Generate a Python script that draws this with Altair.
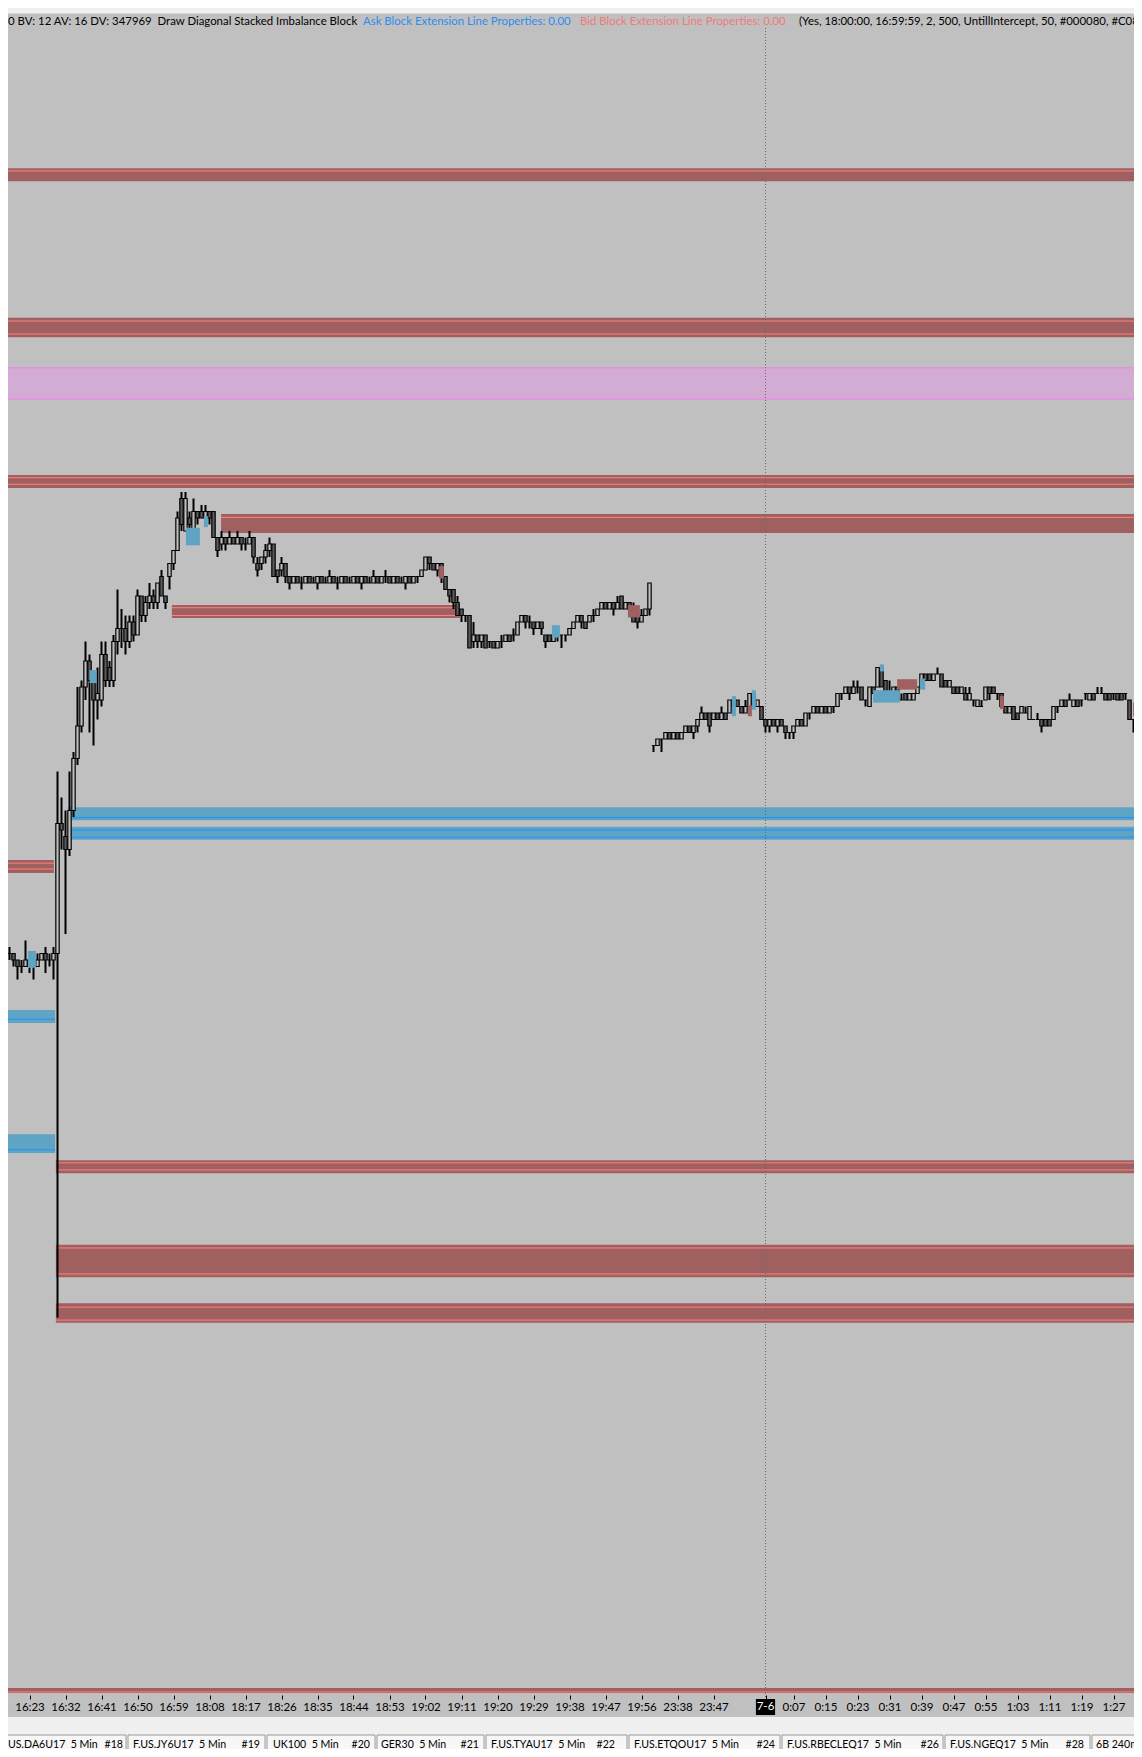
import altair as alt
import pandas as pd

# ---------------- 1-minute bars, price in ticks ----------------
left_first = -5
left_open = [113,113,112,111,111,112,111,111,112,113,112,112,
             113,133,131,129,135,143,148,154,158,155,
             152,152,159,157,155,161,163,163,161,164,
             162,168,165,167,168,167,171,168,171,173,
             175,183,178,180,178,181,181,180,181,181,
             177,176,177,176,177,176,177,176,176,177,
             173,173,174,175,176,172,172,173,171,170,
             171,170,170,171,170,170,171,170,170,171,
             170,170,171,170,170,171,170,171,170,170,
             171,170,171,171,170,171,170,170,171,170,
             171,171,172,174,173,172,173,171,169,169,
             167,166,165,165,161,162,161,162,161,161,
             160,161,161,162,162,162,164,165,164,164,
             163,164,162,162,161,162,162,162,162,163,
             164,165,164,164,165,165,166,167,166,167,
             166,168,166,167,166,165,164,165,166]
left_close = [113,112,111,111,112,111,111,112,113,112,112,113,
              133,132,129,135,143,148,154,158,155,152,
              153,159,155,155,161,163,163,161,164,162,
              168,165,167,168,167,170,168,167,173,175,
              180,179,183,179,181,180,180,181,180,177,
              175,177,176,177,176,177,176,176,177,174,
              172,174,175,176,171,171,173,171,170,171,
              170,170,171,170,170,171,170,170,171,170,
              170,171,170,170,171,170,171,170,170,171,
              170,171,171,170,171,170,170,171,170,171,
              171,172,174,173,172,173,171,169,168,167,
              165,165,165,160,162,161,162,160,161,160,
              161,161,162,161,162,164,165,164,164,163,
              164,163,161,161,162,162,162,162,163,164,
              165,164,163,165,165,166,167,166,167,166,
              167,166,167,166,164,164,165,166,170]
left_high = [114,113,112,112,115,112,112,113,113,114,113,114,
             141,137,135,141,144,154,155,161,159,156,
             157,161,161,158,162,169,166,165,165,165,
             169,168,168,170,169,170,172,168,173,175,
             181,184,184,181,183,181,182,182,181,181,
             177,178,177,178,177,178,177,177,178,177,
             174,174,176,177,176,172,174,173,171,171,
             171,171,171,171,171,171,171,171,172,171,
             171,171,171,171,171,171,171,171,171,172,
             171,171,172,171,171,171,171,171,171,171,
             171,172,174,174,173,173,173,171,169,169,
             168,166,165,165,164,162,162,162,161,161,
             161,162,162,162,163,164,165,165,165,164,
             164,164,162,162,163,163,162,162,163,164,
             165,165,164,165,166,166,167,167,167,167,
             168,168,167,167,167,166,166,166,170]
left_low = [112,111,109,110,111,110,109,111,112,110,111,109,
            57,129,116,128,134,142,147,152,147,145,
            149,151,154,154,154,159,160,159,160,161,
            162,164,164,166,166,166,168,166,169,172,
            175,178,178,178,177,179,180,179,179,177,
            174,175,175,176,176,176,175,175,176,173,
            171,172,173,174,171,170,171,170,169,170,
            170,169,170,170,170,169,170,170,170,170,
            169,170,170,170,170,170,169,170,170,170,
            170,170,170,170,170,170,170,169,170,170,
            170,171,172,172,172,171,170,169,167,166,
            165,164,164,160,160,160,160,160,160,160,
            160,160,161,161,161,162,164,163,163,162,
            163,162,160,161,161,161,160,161,162,163,
            164,163,163,164,164,165,166,166,166,165,
            166,166,166,165,164,163,164,165,165]

right_first = 156
right_open = [145,145,146,146,147,146,147,146,147,148,
              147,148,149,150,150,149,150,149,150,150,
              152,152,151,150,151,153,151,151,149,148,
              149,148,149,148,147,147,148,149,148,150,
              150,151,150,151,150,151,151,153,153,154,
              153,154,154,152,151,154,154,157,155,153,
              153,154,152,153,152,152,153,154,156,156,
              155,156,156,155,154,154,154,153,153,152,
              152,151,151,152,154,154,153,153,151,150,
              151,150,150,150,149,149,149,149,149,149,
              149,151,151,152,152,151,152,152,153,152,
              153,153,153,153,153,153,153,153,153,152,
              149,148]
right_close = [145,146,146,147,146,147,146,147,148,147,
               148,149,150,149,148,150,149,150,149,152,
               151,151,150,151,153,151,152,149,148,149,
               148,149,148,147,147,148,149,148,150,150,
               151,150,151,150,151,151,153,153,154,153,
               154,154,152,152,154,153,157,154,153,153,
               154,152,152,152,153,153,154,156,155,155,
               156,156,154,154,155,153,153,154,152,153,
               152,152,151,154,153,153,153,151,150,151,
               149,149,151,150,151,149,149,148,148,148,
               151,151,152,151,152,152,151,152,153,153,
               152,153,153,152,152,153,152,152,153,149,
               149,149]
right_high = [145,146,146,147,147,147,147,147,148,148,
              148,149,151,150,150,150,150,151,150,152,
              152,152,151,152,153,153,152,151,149,149,
              149,149,149,148,147,148,149,149,150,150,
              151,151,151,151,151,151,153,153,154,154,
              155,155,154,152,154,154,157,157,155,155,
              154,154,153,153,153,153,154,156,156,156,
              156,157,156,155,155,154,154,154,154,154,
              152,152,152,154,154,154,153,153,151,151,
              151,150,151,151,151,149,150,149,149,149,
              151,151,152,152,153,152,152,152,153,153,
              153,154,154,153,153,153,153,153,153,152,
              149,149]
right_low = [144,145,144,146,146,146,146,146,147,147,
             146,147,149,149,147,149,149,149,149,150,
             150,151,150,150,151,151,151,149,147,147,
             148,147,148,146,146,146,148,148,148,149,
             150,150,150,150,150,150,151,152,153,152,
             153,153,152,151,151,153,154,154,153,153,
             153,152,152,152,152,152,153,154,155,155,
             155,156,154,154,154,153,153,153,152,152,
             151,151,151,152,152,153,152,151,150,150,
             149,149,150,150,149,149,149,147,148,148,
             149,150,151,151,152,151,151,151,152,152,
             152,153,153,152,152,152,152,152,152,149,
             147,148]

# ---------------- time axis ----------------
tick_idx = [0, 9, 18, 27, 36, 45, 54, 63, 72, 81, 90, 99, 108, 117, 126, 135, 144, 153,
            162, 171, 184, 191, 199, 207, 215, 223, 231, 239, 247, 255, 263, 271]
tick_lbl = ["16:23", "16:32", "16:41", "16:50", "16:59", "18:08", "18:17", "18:26", "18:35",
            "18:44", "18:53", "19:02", "19:11", "19:20", "19:29", "19:38", "19:47", "19:56",
            "23:38", "23:47", "7-6", "0:07", "0:15", "0:23", "0:31", "0:39", "0:47", "0:55",
            "1:03", "1:11", "1:19", "1:27"]
session_idx = 184
session_lbl = "7-6"

# ---------------- extension blocks (price bands) ----------------
band_kind = ["bid", "bid", "zone", "bid", "bid", "bid", "ask", "ask", "bid", "ask", "ask",
             "bid", "bid", "bid", "bid"]
band_from = [-6, -6, -6, -6, 47.9, 35.6, 9.6, 9.6, -6, -6, -6, 6.6, 6.6, 6.6, -6]
band_to = [279, 279, 279, 279, 279, 107.6, 279, 279, 6.1, 6.4, 6.4, 279, 279, 279, 279]
band_top = [233.8, 210.8, 203.2, 186.6, 180.6, 166.6, 135.5, 132.5, 127.4, 104.3, 85.2,
            81.2, 68.2, 59.2, 0.0]
band_bot = [231.8, 207.8, 198.2, 184.6, 177.7, 164.6, 133.5, 130.5, 125.4, 102.3, 82.3,
            79.2, 63.2, 56.2, -0.77]
line_band = [0, 1, 1, 2, 2, 3, 3, 4, 5, 5, 6, 7, 7, 8, 8, 9, 10, 11, 11, 12, 12, 13, 13, 14]
line_price = [233.4, 210.3, 208.3, 203.1, 198.3, 186.2, 185.2, 180.1, 166.2, 165.0, 133.9,
              132.0, 130.9, 126.9, 126.0, 102.9, 82.8, 80.8, 79.7, 67.7, 63.7, 58.6, 56.6,
              -0.6]

# small stacked-imbalance blocks
blk_kind = ["ask"] * 10 + ["bid"] * 6
blk_from = [-0.4, 15.0, 39.1, 43.6, 130.6, 175.6, 180.6, 210.9, 212.6, 222.6,
            102.4, 149.6, 179.6, 216.9, 242.6, 275.9]
blk_to = [1.6, 16.8, 42.6, 44.6, 132.6, 176.6, 181.6, 217.6, 213.6, 223.9,
          103.6, 152.6, 180.6, 221.9, 243.6, 279]
blk_top = [113.4, 156.6, 178.5, 180.3, 163.5, 152.6, 153.5, 153.5, 157.5, 155.3,
           172.6, 166.6, 151.2, 155.2, 152.6, 151.6]
blk_bot = [110.8, 154.6, 175.8, 178.6, 161.6, 149.5, 150.5, 151.6, 156.4, 153.6,
           170.7, 164.7, 149.5, 153.6, 150.6, 149.5]

# ---------------- texts ----------------
header_txt = ["0 BV: 12 AV: 16 DV: 347969  Draw Diagonal Stacked Imbalance Block",
              "Ask Block Extension Line Properties: 0.00",
              "Bid Block Extension Line Properties: 0.00",
              "(Yes, 18:00:00, 16:59:59, 2, 500, UntillIntercept, 50, #000080, #C08000, 2)"]
header_kind = ["plain", "ask", "bid", "plain"]
header_px = [8, 363, 580, 799]

tab_name = ["US.DA6U17  5 Min", "F.US.JY6U17  5 Min", "UK100  5 Min", "GER30  5 Min",
            "F.US.TYAU17  5 Min", "F.US.ETQOU17  5 Min", "F.US.RBECLEQ17  5 Min",
            "F.US.NGEQ17  5 Min", "6B 240m"]
tab_num = ["#18", "#19", "#20", "#21", "#22", "#24", "#26", "#28", ""]
tab_px0 = [-2, 128, 267, 377, 486, 629, 782, 945, 1092]
tab_px1 = [126, 265, 375, 484, 627, 780, 943, 1090, 1160]
tab_txt0 = [8, 133, 273, 381, 491, 634, 787, 950, 1096]
tab_txt1 = [123, 260, 370, 479, 615, 775, 939, 1084, 1150]

# ---------------- geometry / styles ----------------
W, H = 1126, 1681
XMIN = -5.375
XMAX = XMIN + W / 4.0
YMIN, YMAX = -1.077, 257.54
FONT = "Lato"
BG = "#c0c0c0"
FILL = {"bid": "#a06060", "ask": "#60a4c4", "zone": "#d2acd2"}
LINE = {"bid": "#ff8080", "ask": "#1e90ff", "zone": "#ee82ee"}
BODY = {"up": BG, "down": "#5c5c5c", "flat": BG}
TXT = {"plain": "#000000", "ask": "#2b8cf0", "bid": "#f07a7a"}


def px2i(px):
    return XMIN + (px - 8) / 4.0


def session(first, o, h, l, c):
    n = len(c)
    return pd.DataFrame({"i": [first + k for k in range(n)], "o": o, "h": h, "l": l, "c": c})


bars = pd.concat([session(left_first, left_open, left_high, left_low, left_close),
                  session(right_first, right_open, right_high, right_low, right_close)],
                 ignore_index=True)
bars["x0"] = bars["i"] - 0.42
bars["x1"] = bars["i"] + 0.42
bars["top"] = bars[["o", "c"]].max(axis=1)
bars["bot"] = bars[["o", "c"]].min(axis=1)
bars["dir"] = ["up" if c > o else ("down" if c < o else "flat") for o, c in zip(bars.o, bars.c)]
bars["fillc"] = bars["dir"].map(BODY)

bands = pd.DataFrame({"kind": band_kind, "x0": band_from, "x1": band_to,
                      "top": band_top, "bot": band_bot})
bands["col"] = bands["kind"].map(FILL)
lines = pd.DataFrame({"p": line_price,
                      "x0": [band_from[b] for b in line_band],
                      "x1": [band_to[b] for b in line_band],
                      "kind": [band_kind[b] for b in line_band]})
lines["col"] = lines["kind"].map(LINE)
blocks = pd.DataFrame({"kind": blk_kind, "x0": blk_from, "x1": blk_to,
                       "top": blk_top, "bot": blk_bot})
blocks["col"] = blocks["kind"].map(FILL)

xs = alt.Scale(domain=[XMIN, XMAX], nice=False, zero=False)
ys = alt.Scale(domain=[YMIN, YMAX], nice=False, zero=False)
lbl_expr = ("datum.value == %d ? '' : %s[indexof(%s, datum.value)]"
            % (session_idx, str(tick_lbl), str(tick_idx)))
xaxis = alt.Axis(values=tick_idx, labelExpr=lbl_expr, title=None, grid=False, domain=False,
                 ticks=True, tickColor="#000000", tickSize=4, tickWidth=1,
                 labelColor="#000000", labelFont=FONT, labelFontSize=11.5, labelPadding=2,
                 labelFlush=False, labelOverlap=False, labelBound=False)


def X(f):
    return alt.X(f, type="quantitative", scale=xs, axis=xaxis)


def X2(f):
    return alt.X2(f)


def Y(f):
    return alt.Y(f, type="quantitative", scale=ys, axis=None)


one = pd.DataFrame({"a": [0]})

# light strips (header top and tab bar)
top_strip = alt.Chart(one).mark_rect(color="#f0f0f0").encode(
    x=alt.value(0), x2=alt.value(W), y=alt.value(-6), y2=alt.value(-0.5))
bottom_strip = alt.Chart(one).mark_rect(color="#f0f0f0").encode(
    x=alt.value(0), x2=alt.value(W), y=alt.value(H + 22), y2=alt.value(H + 60))

band_layer = alt.Chart(bands).mark_rect(clip=True).encode(
    x=X("x0"), x2=X2("x1"), y=Y("top"), y2=alt.Y2("bot"),
    color=alt.Color("col:N", scale=None))
line_layer = alt.Chart(lines).mark_rule(clip=True, strokeWidth=1).encode(
    x=X("x0"), x2=X2("x1"), y=Y("p"), color=alt.Color("col:N", scale=None))

sess = pd.DataFrame({"i": [session_idx], "a": [session_idx - 2.4], "b": [session_idx + 2.4],
                     "t": [session_lbl]})
vline = alt.Chart(sess).mark_rule(color="#6a6a6a", strokeDash=[1, 2], strokeWidth=1).encode(
    x=X("i"), y=alt.value(14), y2=alt.value(H + 4))

wicks = alt.Chart(bars).mark_rule(clip=True, color="#000000", strokeWidth=2).encode(
    x=X("i"), y=Y("l"), y2=alt.Y2("h"))
bodies = alt.Chart(bars).mark_rect(clip=True, stroke="#000000", strokeWidth=1.2).encode(
    x=X("x0"), x2=X2("x1"), y=Y("top"), y2=alt.Y2("bot"),
    fill=alt.Fill("fillc:N", scale=None))
block_layer = alt.Chart(blocks).mark_rect(clip=True).encode(
    x=X("x0"), x2=X2("x1"), y=Y("top"), y2=alt.Y2("bot"),
    color=alt.Color("col:N", scale=None))

sess_box = alt.Chart(sess).mark_rect(color="#000000").encode(
    x=X("a"), x2=X2("b"), y=alt.value(H + 4), y2=alt.value(H + 20))
sess_txt = alt.Chart(sess).mark_text(color="#ffffff", font=FONT, fontSize=11.5,
                                     baseline="middle").encode(
    x=X("i"), y=alt.value(H + 12), text="t:N")

hdr = pd.DataFrame({"t": [s.replace("  ", "\u00a0\u00a0") for s in header_txt],
                    "x": [px2i(p) for p in header_px],
                    "col": [TXT[k] for k in header_kind]})
header = alt.Chart(hdr).mark_text(align="left", baseline="middle", font=FONT,
                                  fontSize=11.4).encode(
    x=X("x"), y=alt.value(8), text="t:N", color=alt.Color("col:N", scale=None))

tabs = pd.DataFrame({"name": [s.replace("  ", "\u00a0\u00a0") for s in tab_name],
                     "num": tab_num,
                     "x0": [px2i(p) for p in tab_px0], "x1": [px2i(p) for p in tab_px1],
                     "t0": [px2i(p) for p in tab_txt0], "t1": [px2i(p) for p in tab_txt1]})
tab_box = alt.Chart(tabs).mark_rect(fill="#f7f7f7", stroke="#9a9a9a", strokeWidth=1).encode(
    x=X("x0"), x2=X2("x1"), y=alt.value(H + 40), y2=alt.value(H + 64))
tab_name_l = alt.Chart(tabs).mark_text(align="left", baseline="middle", font=FONT,
                                       fontSize=10.6, color="#000000").encode(
    x=X("t0"), y=alt.value(H + 50), text="name:N")
tab_num_l = alt.Chart(tabs).mark_text(align="right", baseline="middle", font=FONT,
                                      fontSize=10.6, color="#000000").encode(
    x=X("t1"), y=alt.value(H + 50), text="num:N")

chart = alt.layer(
    band_layer, line_layer, vline, wicks, bodies, block_layer,
    top_strip, header, bottom_strip, sess_box, sess_txt, tab_box, tab_name_l, tab_num_l
).properties(
    width=W, height=H,
    padding={"left": 0, "top": 6, "right": 0, "bottom": 54},
    autosize=alt.AutoSizeParams(type="none"),
    background=BG,
).configure_view(stroke=None, fill=BG)

chart.save("out.html", embed_options={"renderer": "svg", "actions": False})
